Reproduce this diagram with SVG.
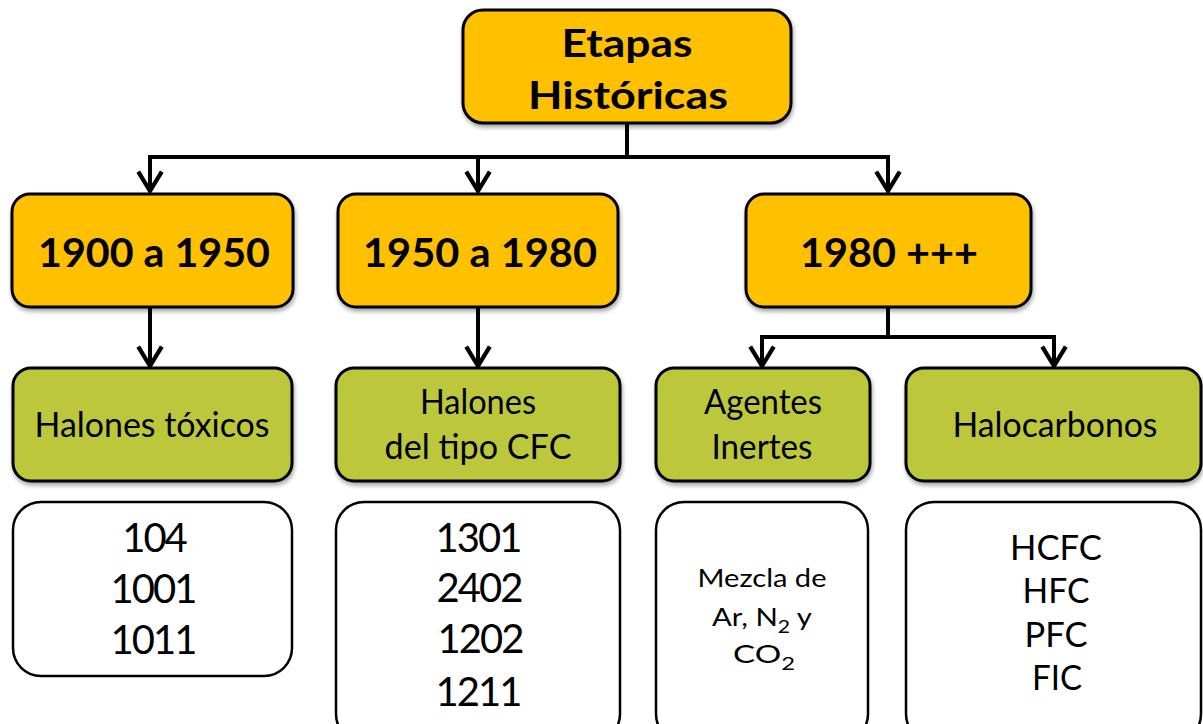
<svg xmlns="http://www.w3.org/2000/svg" width="1203" height="724" viewBox="0 0 1203 724">
<style>
.o{fill:#FFC000;stroke:#000;stroke-width:3}
.g{fill:#BCC73A;stroke:#000;stroke-width:3}
.w{fill:#fff;stroke:#000;stroke-width:2.5}
text{font-family:Lato,"Open Sans","Liberation Sans",sans-serif;text-anchor:middle;fill:#000}
.b{font-weight:bold}
.n{font-size:40px;letter-spacing:-2px}
.c{fill:none;stroke:#000;stroke-width:4;stroke-linejoin:miter}
</style>
<defs>
<filter id="sh" x="-10%" y="-10%" width="120%" height="130%"><feDropShadow dx="1" dy="3" stdDeviation="2" flood-opacity="0.35"/></filter>
<marker id="ar" markerUnits="userSpaceOnUse" markerWidth="30" markerHeight="30" refX="0" refY="0" viewBox="-22 -14 26 28" orient="auto" overflow="visible">
<path d="M-18,-11 L0,0 L-18,11" fill="none" stroke="#000" stroke-width="4" stroke-linejoin="miter"/>
</marker>
</defs>
<g id="connectors">
<path class="c" d="M627,123 V157"/>
<path class="c" d="M150,157 H888"/>
<path class="c" d="M150,155 V191" marker-end="url(#ar)"/>
<path class="c" d="M478,155 V191" marker-end="url(#ar)"/>
<path class="c" d="M888,155 V191" marker-end="url(#ar)"/>
<path class="c" d="M150,307 V366" marker-end="url(#ar)"/>
<path class="c" d="M478,307 V366" marker-end="url(#ar)"/>
<path class="c" d="M888,307 V337"/>
<path class="c" d="M762,337 H1054"/>
<path class="c" d="M762,335 V366" marker-end="url(#ar)"/>
<path class="c" d="M1054,335 V366" marker-end="url(#ar)"/>
</g>
<g id="root">
<rect class="o" x="463" y="10" width="328" height="113" rx="20" filter="url(#sh)"/>
<text class="b" x="627" y="57" font-size="38" textLength="131" lengthAdjust="spacingAndGlyphs">Etapas</text>
<text class="b" x="628" y="109" font-size="38" textLength="200" lengthAdjust="spacingAndGlyphs">Históricas</text>
</g>
<g id="p1">
<rect class="o" x="12" y="194" width="281" height="113" rx="18" filter="url(#sh)"/>
<text class="b" x="154" y="267" font-size="40" textLength="232" lengthAdjust="spacingAndGlyphs">1900 a 1950</text>
</g>
<g id="p2">
<rect class="o" x="338" y="194" width="280" height="113" rx="18" filter="url(#sh)"/>
<text class="b" x="480" y="267" font-size="40" textLength="234" lengthAdjust="spacingAndGlyphs">1950 a 1980</text>
</g>
<g id="p3">
<rect class="o" x="746" y="194" width="285" height="113" rx="18" filter="url(#sh)"/>
<text class="b" x="889" y="267" font-size="40" textLength="178" lengthAdjust="spacingAndGlyphs">1980 +++</text>
</g>
<g id="g1">
<rect class="g" x="13" y="368" width="279" height="113" rx="18" filter="url(#sh)"/>
<text x="152" y="437" font-size="35" textLength="235" lengthAdjust="spacingAndGlyphs">Halones tóxicos</text>
</g>
<g id="g2">
<rect class="g" x="336" y="368" width="284" height="113" rx="18" filter="url(#sh)"/>
<text x="478" y="414" font-size="35" textLength="116" lengthAdjust="spacingAndGlyphs">Halones</text>
<text x="478" y="459" font-size="35" textLength="187" lengthAdjust="spacingAndGlyphs">del tipo CFC</text>
</g>
<g id="g3">
<rect class="g" x="656" y="368" width="214" height="113" rx="18" filter="url(#sh)"/>
<text x="763" y="414" font-size="35" textLength="118" lengthAdjust="spacingAndGlyphs">Agentes</text>
<text x="762" y="459" font-size="35" textLength="101" lengthAdjust="spacingAndGlyphs">Inertes</text>
</g>
<g id="g4">
<rect class="g" x="906" y="368" width="295" height="113" rx="18" filter="url(#sh)"/>
<text x="1055" y="437" font-size="35" textLength="205" lengthAdjust="spacingAndGlyphs">Halocarbonos</text>
</g>
<g id="w1">
<rect class="w" x="13" y="502" width="279" height="174" rx="28"/>
<text class="n" x="154" y="552">104</text>
<text class="n" x="153" y="603">1001</text>
<text class="n" x="153" y="654">1011</text>
</g>
<g id="w2">
<rect class="w" x="336" y="502" width="284" height="240" rx="28"/>
<text class="n" x="478" y="552">1301</text>
<text class="n" x="479" y="602">2402</text>
<text class="n" x="480" y="653">1202</text>
<text class="n" x="478" y="706">1211</text>
</g>
<g id="w3">
<rect class="w" x="656" y="502" width="212" height="240" rx="28"/>
<text x="762" y="587" font-size="25" textLength="129" lengthAdjust="spacingAndGlyphs">Mezcla de</text>
<text x="762" y="626" font-size="25" textLength="100" lengthAdjust="spacingAndGlyphs">Ar, N<tspan font-size="18" dy="7">2</tspan><tspan dy="-7"> y</tspan></text>
<text x="764" y="663" font-size="25" textLength="62" lengthAdjust="spacingAndGlyphs">CO<tspan font-size="18" dy="7">2</tspan></text>
</g>
<g id="w4">
<rect class="w" x="906" y="502" width="295" height="240" rx="28"/>
<text x="1056" y="560" font-size="35" textLength="92" lengthAdjust="spacingAndGlyphs">HCFC</text>
<text x="1056" y="603" font-size="35" textLength="67" lengthAdjust="spacingAndGlyphs">HFC</text>
<text x="1056" y="647" font-size="35" textLength="63" lengthAdjust="spacingAndGlyphs">PFC</text>
<text x="1057" y="690" font-size="35" textLength="50" lengthAdjust="spacingAndGlyphs">FIC</text>
</g>
</svg>
